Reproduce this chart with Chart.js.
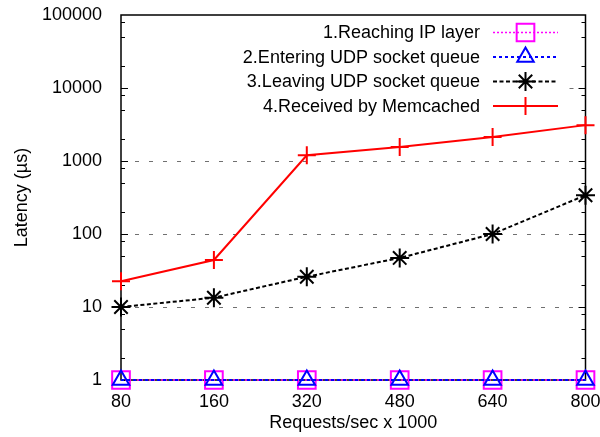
<!DOCTYPE html>
<html>
<head>
<meta charset="utf-8">
<script src="https://cdn.jsdelivr.net/npm/chart.js@4/dist/chart.umd.min.js"></script>
<style>
  html, body { margin: 0; padding: 0; background: #fff; }
  #wrap { width: 600px; height: 437px; }
</style>
</head>
<body>
<div id="wrap"><canvas id="c" width="600" height="437"></canvas></div>
<script>
// Request rates (x 1000 req/s)
const categories = ['80', '160', '320', '480', '640', '800'];

// Latency in microseconds at each stage of the packet path
const reachingIpLayer = [1, 1, 1, 1, 1, 1];
const enteringUdpQueue = [1, 1, 1, 1, 1, 1];
const leavingUdpQueue = [10, 13.4, 26, 47, 100, 340];
const receivedByMemcached = [22.5, 44, 1200, 1560, 2130, 3100];

const seriesNames = [
  '1.Reaching IP layer',
  '2.Entering UDP socket queue',
  '3.Leaving UDP socket queue',
  '4.Received by Memcached'
];

// Decade ticks with labels, plus unlabeled minor ticks inside each decade
const yMajorTicks = [1, 10, 100, 1000, 10000, 100000];
const yMinorFactors = [2, 5, 8];

const FONT = "'Liberation Sans', Arial, Helvetica, sans-serif";

// Frame, inward tick marks and the partly hidden 10000 grid line
const framePlugin = {
  id: 'frame',
  beforeDatasetsDraw(chart) {
    const { ctx, chartArea: a } = chart;
    const y = chart.scales.y;
    ctx.save();
    // short visible piece of the 10000 grid line to the right of the key
    ctx.strokeStyle = '#707070';
    ctx.lineWidth = 1;
    ctx.setLineDash([4, 10]);
    const gy = Math.round(y.getPixelForValue(10000)) + 0.5;
    ctx.beginPath();
    ctx.moveTo(a.right - 16, gy);
    ctx.lineTo(a.right, gy);
    ctx.stroke();
    ctx.setLineDash([]);

    ctx.strokeStyle = '#000';
    ctx.lineWidth = 1.5;
    ctx.strokeRect(a.left, a.top, a.right - a.left, a.bottom - a.top);

    ctx.lineWidth = 1;
    ctx.beginPath();
    for (let i = 0; i < yMajorTicks.length - 1; i++) {
      const dec = yMajorTicks[i];
      const py = Math.round(y.getPixelForValue(dec)) + 0.5;
      ctx.moveTo(a.left, py); ctx.lineTo(a.left + 7, py);
      ctx.moveTo(a.right, py); ctx.lineTo(a.right - 7, py);
      for (const f of yMinorFactors) {
        const my = Math.round(y.getPixelForValue(dec * f)) + 0.5;
        ctx.moveTo(a.left, my); ctx.lineTo(a.left + 4, my);
        ctx.moveTo(a.right, my); ctx.lineTo(a.right - 4, my);
      }
    }
    ctx.stroke();
    ctx.restore();
  }
};

// Key: right-aligned text, then a line sample with the marker in its middle
const keyPlugin = {
  id: 'key',
  afterDatasetsDraw(chart) {
    const { ctx } = chart;
    const textRight = 480, lineStart = 493, lineEnd = 558, rowTop = 32.5, rowStep = 24.5;
    ctx.save();
    chart.data.datasets.forEach((ds, i) => {
      const cy = rowTop + i * rowStep;
      ctx.fillStyle = '#000';
      ctx.font = '18px ' + FONT;
      ctx.textAlign = 'right';
      ctx.textBaseline = 'middle';
      ctx.fillText(ds.label, textRight, cy + 1);

      ctx.strokeStyle = ds.borderColor;
      ctx.lineWidth = ds.borderWidth;
      ctx.setLineDash(ds.borderDash || []);
      ctx.beginPath();
      ctx.moveTo(lineStart, cy);
      ctx.lineTo(lineEnd, cy);
      ctx.stroke();
      ctx.setLineDash([]);

      ctx.strokeStyle = ds.pointBorderColor;
      ctx.fillStyle = 'rgba(0,0,0,0)';
      ctx.lineWidth = ds.pointBorderWidth;
      Chart.helpers.drawPoint(ctx, {
        pointStyle: ds.pointStyle,
        radius: ds.pointRadius,
        rotation: 0,
        borderWidth: ds.pointBorderWidth
      }, (lineStart + lineEnd) / 2, cy);
    });
    ctx.restore();
  }
};

function series(label, data, color, dash, width, style, radius, order) {
  return {
    label, data, order,
    borderColor: color,
    borderWidth: width,
    borderDash: dash,
    tension: 0,
    fill: false,
    clip: false,
    pointStyle: style,
    pointRadius: radius,
    pointHoverRadius: radius,
    pointBorderColor: color,
    pointBackgroundColor: 'rgba(0,0,0,0)',
    pointBorderWidth: 2
  };
}

new Chart(document.getElementById('c'), {
  type: 'line',
  data: {
    labels: categories,
    datasets: [
      series(seriesNames[0], reachingIpLayer, '#ff00ff', [2, 2], 1.5, 'rect', 12.5, 4),
      series(seriesNames[1], enteringUdpQueue, '#0000ff', [3, 3], 2, 'triangle', 9.5, 3),
      series(seriesNames[2], leavingUdpQueue, '#000000', [4, 2.5], 2, 'star', 9.5, 2),
      series(seriesNames[3], receivedByMemcached, '#ff0000', [], 2, 'cross', 9, 1)
    ]
  },
  options: {
    responsive: false,
    animation: false,
    devicePixelRatio: 1,
    layout: { padding: { top: 15, right: 12, left: 0, bottom: 0 } },
    plugins: { legend: { display: false }, tooltip: { enabled: false } },
    scales: {
      x: {
        type: 'category',
        offset: false,
        grid: { display: false, drawTicks: false },
        border: { display: false },
        ticks: {
          autoSkip: false, maxRotation: 0, minRotation: 0,
          padding: 11, color: '#000',
          font: { family: FONT, size: 18 }
        },
        title: {
          display: true, text: 'Requests/sec x 1000', color: '#000',
          font: { family: FONT, size: 18 },
          padding: { top: 0, bottom: 3 }
        },
        afterFit(scale) {
          scale.height = 57;
          scale.paddingLeft = 0;
          scale.paddingRight = 0;
        }
      },
      y: {
        type: 'logarithmic',
        min: 1, max: 100000,
        afterBuildTicks(scale) {
          scale.ticks = yMajorTicks.map(v => ({ value: v, major: true }));
        },
        grid: {
          drawTicks: false,
          lineWidth: 1,
          color: ctx => {
            const v = ctx.tick ? ctx.tick.value : null;
            return (v === 10 || v === 100 || v === 1000) ? '#707070' : 'rgba(0,0,0,0)';
          }
        },
        border: { display: false, dash: [4, 10] },
        ticks: {
          padding: 19, color: '#000',
          font: { family: FONT, size: 18 },
          callback: v => String(v)
        },
        title: {
          display: true, text: 'Latency (µs)', color: '#000',
          font: { family: FONT, size: 18 },
          padding: { top: 11, bottom: 0 }
        },
        afterFit(scale) {
          scale.width = 121;
          scale.paddingTop = 0;
          scale.paddingBottom = 0;
        }
      }
    }
  },
  plugins: [framePlugin, keyPlugin]
});
</script>
</body>
</html>
